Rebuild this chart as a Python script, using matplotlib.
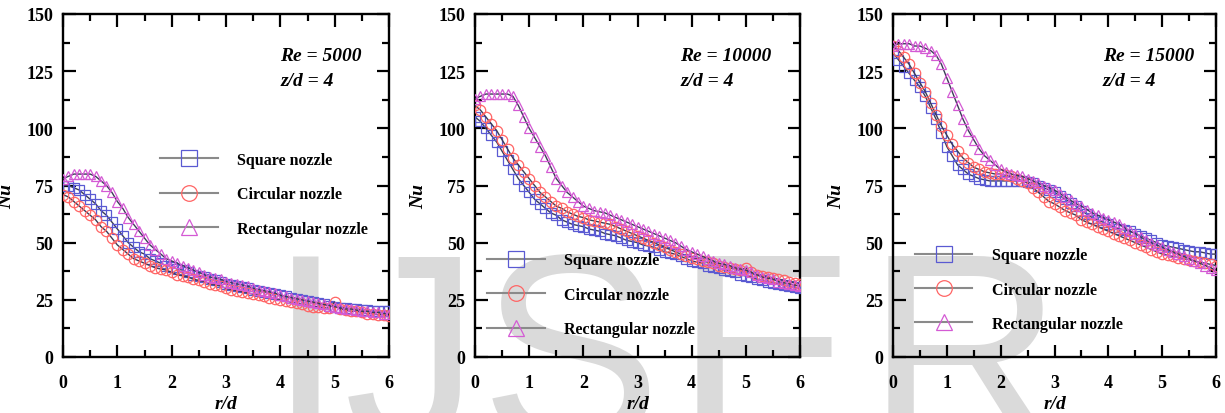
import numpy as np
import matplotlib
matplotlib.use("Agg")
import matplotlib.pyplot as plt
from matplotlib.ticker import MultipleLocator

# ---------------- data ----------------
r_d = np.round(np.linspace(0, 6, 61), 2)

re_labels = ["Re = 5000", "Re = 10000", "Re = 15000"]
zd_label = "z/d = 4"
series_names = ["Square nozzle", "Circular nozzle", "Rectangular nozzle"]

nu_sq_5000 = [75, 75, 74, 73, 71, 69, 67, 64, 62, 59,
              56, 53, 50, 48, 46, 45, 43, 42, 41, 40,
              39.5, 38.5, 38, 37, 36, 35.5, 35, 34, 33.5, 33,
              32, 31.5, 31, 30.5, 30, 29.5, 29, 28.5, 28, 27.5,
              27, 26.5, 26, 25.5, 25, 24.5, 24, 23.5, 23, 22.5,
              22, 21.5, 21.5, 21, 21, 20.5, 20.5, 20, 20, 20,
              20]
nu_ci_5000 = [71, 70, 68, 66, 64, 62, 60, 57, 55, 52,
              49, 47, 45, 43, 42, 41, 40, 39, 38.5, 38,
              37, 36, 35.5, 35, 34, 33.5, 33, 32, 31.5, 31,
              30, 29.5, 29, 28.5, 28, 27.5, 27, 26.5, 26, 25.5,
              25, 24.5, 24, 23.5, 23, 22.5, 22, 22, 21.5, 21.5,
              24, 21, 20.5, 20, 20, 19.5, 19, 19, 18.5, 18.5,
              18]
nu_re_5000 = [78, 79, 80, 80, 80, 80, 79, 77, 75, 72,
              68, 65, 61, 58, 55, 52, 49, 47, 45, 43,
              42, 41, 40, 39, 38, 37, 36, 35, 34.5, 34,
              33, 32.5, 32, 31.5, 31, 30, 29.5, 29, 28.5, 28,
              27, 26.5, 26, 25.5, 25, 24.5, 24, 23.5, 23, 22.5,
              22, 21.5, 21, 21, 20.5, 20, 20, 19.5, 19.5, 19,
              19]

nu_sq_10000 = [105, 103, 100, 97, 94, 90, 86, 82, 78, 75,
               72, 69, 67, 65, 63, 62, 60, 59, 58, 57.5,
               57, 56, 55.5, 55, 54, 53.5, 53, 52, 51, 50.5,
               50, 49, 48.5, 48, 47, 46, 45.5, 45, 44, 43,
               42, 41.5, 41, 40, 39.5, 39, 38, 37.5, 37, 36,
               35.5, 35, 34, 33.5, 33, 32.5, 32, 31.5, 31, 30.5,
               30]
nu_ci_10000 = [110, 108, 105, 102, 99, 95, 91, 87, 84, 81,
               78, 75, 72, 70, 68, 66, 65, 63.5, 62.5, 61.5,
               61, 60, 59.5, 59, 58.5, 58, 57, 56, 55, 54,
               53, 52, 51, 50, 49, 48, 47, 46, 45, 44,
               43.5, 43, 42, 41.5, 41, 40, 39.5, 39, 38.5, 38,
               39, 37, 36, 35.5, 35, 34.5, 34, 33.5, 33, 32.5,
               32]
nu_re_10000 = [113, 114, 115, 115, 115, 115, 115, 114, 110, 105,
               100, 96, 92, 88, 83, 78, 75, 72, 70, 68,
               66, 65, 64, 63.5, 63, 62, 61, 60, 59, 58,
               57, 56, 55, 54, 53, 52, 51, 50, 48.5, 47,
               46, 45, 44, 43, 42, 41, 40.5, 40, 39, 38.5,
               38, 37, 36, 35, 34.5, 34, 33, 32.5, 32, 31.5,
               31]

nu_sq_15000 = [133, 130, 127, 124, 121, 118, 114, 109, 104, 98,
               92, 88, 84, 82, 80, 79, 78, 77.5, 77, 77,
               77, 77, 77, 77, 77, 76.5, 76, 75, 74, 73,
               72, 70.5, 69, 67.5, 66, 64, 62.5, 61, 60, 59,
               58, 57, 56, 55.5, 55, 54, 53, 52, 51, 50,
               49, 48.5, 48, 47.5, 47, 46.5, 46, 46, 45.5, 45,
               45]
nu_ci_15000 = [136, 134, 131, 128, 124, 120, 116, 111, 106, 101,
               97, 93, 90, 87, 85, 83, 82, 81, 80.5, 80,
               80, 79.5, 79, 78, 77, 76, 74, 72, 70, 68,
               67, 65.5, 64, 63, 62, 60, 59, 58, 57, 56,
               55, 54, 53, 52, 51, 50, 49, 48, 47, 46,
               45, 44.5, 44, 43.5, 43, 42.5, 42, 41.5, 41, 40.5,
               40]
nu_re_15000 = [136, 137, 137, 137, 136, 136, 135, 134, 132, 128,
               122, 116, 110, 104, 99, 95, 91, 88, 86, 84,
               82, 81, 80, 79.5, 79, 78, 77, 76, 75, 74,
               73, 71.5, 70, 68.5, 67, 66, 64.5, 63, 62, 61,
               60, 59, 58, 56.5, 55, 54, 52.5, 51, 50, 49,
               48, 47, 46, 45, 44, 43, 42, 41, 40, 39,
               38]

panels = [
    [nu_sq_5000, nu_ci_5000, nu_re_5000],
    [nu_sq_10000, nu_ci_10000, nu_re_10000],
    [nu_sq_15000, nu_ci_15000, nu_re_15000],
]

# ---------------- style ----------------
plt.rcParams['font.family'] = ['Liberation Serif', 'DejaVu Serif']
plt.rcParams['font.weight'] = 'bold'

W, H = 1225, 414
fig = plt.figure(figsize=(W / 100, H / 100), dpi=100)
fig.patch.set_facecolor('white')

# watermark letters (behind everything)
wm_letters = ["I", "J", "S", "E", "R"]
wm_centers = [306, 412, 570, 765, 964]
for ch, cx in zip(wm_letters, wm_centers):
    fig.text(cx / W, (H - 443) / H, ch, fontsize=196, family='Liberation Sans',
             weight='normal', color='#dadada', ha='center', va='baseline',
             zorder=-10)

ax_px = [(63, 326), (475, 325), (893, 323)]
bottom_px, top_px = 358, 15

markers = ['s', 'o', '^']
mcolors = ['#5a5ad2', '#ff6464', '#d45ad4']
line_color = '#3c3c58'

legend_pos = [(0.298, 0.598), (0.037, 0.305), (0.068, 0.320)]
text_x = [0.666, 0.631, 0.650]

for i, (lp, wp) in enumerate(ax_px):
    ax = fig.add_axes([lp / W, (H - bottom_px) / H, wp / W, (bottom_px - top_px) / H])
    ax.set_facecolor('none')
    handles = []
    for j, vals in enumerate(panels[i]):
        h, = ax.plot(r_d, vals, color=line_color, lw=1.0, marker=markers[j],
                     ms=7.5, mfc='none', mec=mcolors[j], mew=0.9,
                     label=series_names[j], zorder=3)
        handles.append(h)
    ax.set_xlim(0, 6)
    ax.set_ylim(0, 150)
    ax.xaxis.set_major_locator(MultipleLocator(1))
    ax.xaxis.set_minor_locator(MultipleLocator(0.5))
    ax.yaxis.set_major_locator(MultipleLocator(25))
    ax.yaxis.set_minor_locator(MultipleLocator(12.5))
    ax.tick_params(which='both', direction='in', top=True, right=True, width=1.6,
                   color='black')
    ax.tick_params(which='major', length=9, labelsize=13)
    ax.tick_params(axis='x', which='major', pad=12)
    ax.tick_params(axis='y', which='major', pad=7)
    ax.tick_params(which='minor', length=5)
    for sp in ax.spines.values():
        sp.set_linewidth(1.7)
    for lab in ax.get_xticklabels() + ax.get_yticklabels():
        lab.set_fontweight('bold')

    ax.set_xlabel('r/d', fontsize=14, fontstyle='italic', fontweight='bold')
    ax.xaxis.set_label_coords(0.5, -0.11)
    ax.set_ylabel('Nu', fontsize=14, fontstyle='italic', fontweight='bold')
    ax.yaxis.set_label_coords(-48 / wp, 0.47)

    ax.text(text_x[i], 0.878, re_labels[i], transform=ax.transAxes, fontsize=14,
            fontstyle='italic', fontweight='bold', ha='left', va='center')
    ax.text(text_x[i], 0.805, zd_label, transform=ax.transAxes, fontsize=14,
            fontstyle='italic', fontweight='bold', ha='left', va='center')

    leg = ax.legend(handles=handles, loc='upper left', bbox_to_anchor=legend_pos[i],
                    frameon=False, fontsize=11.5, handlelength=3.6,
                    handletextpad=1.2, labelspacing=1.15, markerscale=1.5,
                    borderpad=0, borderaxespad=0)
    for lh in leg.get_lines():
        lh.set_color('#8a8a8a')
        lh.set_linewidth(1.5)
    for t in leg.get_texts():
        t.set_fontweight('bold')

fig.savefig('out.png', dpi=100, facecolor='white')
